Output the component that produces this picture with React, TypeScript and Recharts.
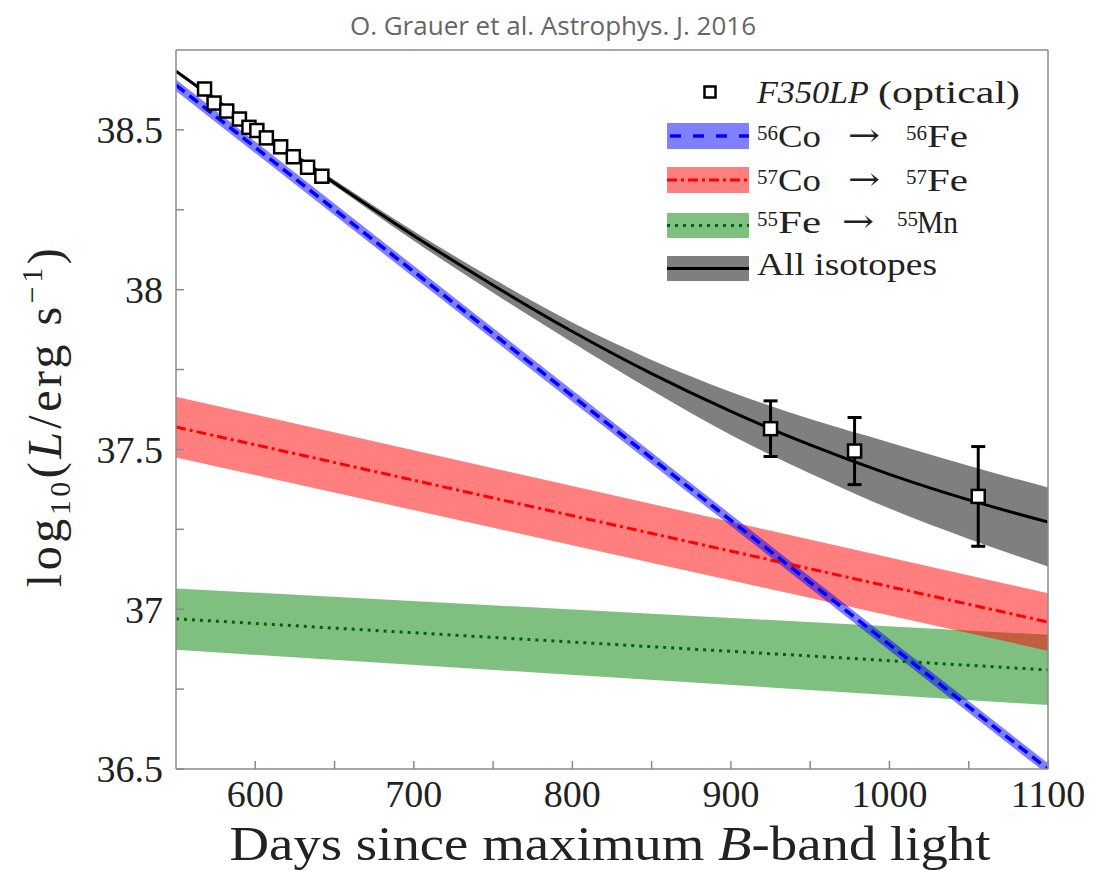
import React from 'react';
import { ComposedChart, Line, Area, Scatter, ErrorBar, XAxis, YAxis, Legend, Label } from 'recharts';

const SERIF = 'Liberation Serif';
const AXIS_GREY = '#8a8a8a';
const TEXT_DARK = '#222';

// radioactive-decay model, log10 luminosity vs days since B-band max
const modelDays = [550, 600, 650, 700, 750, 800, 850, 900, 950, 1000, 1050, 1100];
const totalLum = [38.684, 38.506, 38.334, 38.169, 38.014, 37.869, 37.737, 37.619, 37.514, 37.422, 37.342, 37.273];
const totalLow = [38.679, 38.499, 38.325, 38.153, 37.99, 37.835, 37.685, 37.545, 37.425, 37.315, 37.22, 37.134];
const totalHigh = [38.689, 38.513, 38.343, 38.183, 38.034, 37.897, 37.78, 37.68, 37.595, 37.522, 37.449, 37.381];

// single-isotope decay lines are straight in log space
const lineDays = [550, 1100];
const co56Lum = [38.64, 36.5];
const co56Low = [38.622, 36.482];
const co56High = [38.658, 36.518];
const co57Lum = [37.57, 36.96];
const co57Low = [37.475, 36.87];
const co57High = [37.665, 37.05];
const fe55Lum = [36.97, 36.81];
const fe55Low = [36.873, 36.7];
const fe55High = [37.065, 36.92];

// F350LP photometry
const photDays = [568, 574, 582, 590, 596, 601, 607, 616, 624, 633, 642, 925, 978, 1056];
const photLum = [38.628, 38.584, 38.559, 38.534, 38.508, 38.498, 38.475, 38.447, 38.416, 38.383, 38.355, 37.565, 37.495, 37.353];
const photErr = [0, 0, 0, 0, 0, 0, 0, 0, 0, 0, 0, 0.087, 0.105, 0.156];

const xTicks = [600, 650, 700, 750, 800, 850, 900, 950, 1000, 1050, 1100];
const yTicks = [36.5, 36.75, 37, 37.25, 37.5, 37.75, 38, 38.25, 38.5];

const totalRows = modelDays.map((day, i) => ({ day, lum: totalLum[i], band: [totalLow[i], totalHigh[i]] }));
const co56Rows = lineDays.map((day, i) => ({ day, lum: co56Lum[i], band: [co56Low[i], co56High[i]] }));
const co57Rows = lineDays.map((day, i) => ({ day, lum: co57Lum[i], band: [co57Low[i], co57High[i]] }));
const fe55Rows = lineDays.map((day, i) => ({ day, lum: fe55Lum[i], band: [fe55Low[i], fe55High[i]] }));
const photRows = photDays.map((day, i) => ({ day, lum: photLum[i], err: photErr[i] }));

const fmtX = (v: number) => (v % 100 === 0 ? String(v) : '');
const fmtY = (v: number) => (Math.abs(v * 2 - Math.round(v * 2)) < 1e-6 ? String(v) : '');

const XTick = ({ x, y, payload }: any) => (
  <text x={x} y={y} dy="0.71em" textAnchor="middle" fontFamily={SERIF} fontSize={38} fill={TEXT_DARK}>
    {fmtX(payload.value)}
  </text>
);

const YTick = ({ x, y, payload }: any) => (
  <text x={x} y={y} dy="0.355em" textAnchor="end" fontFamily={SERIF} fontSize={38} fill={TEXT_DARK}>
    {fmtY(payload.value)}
  </text>
);

const Square = (p: any) => (
  <rect x={p.cx - 6.5} y={p.cy - 6.5} width={13} height={13} fill="#fff" stroke="#000" strokeWidth={2.5} />
);

const XTitle = () => (
  <text x={610} y={860} textAnchor="middle" fontFamily={SERIF} fontSize={48} fill={TEXT_DARK}
    textLength={761} lengthAdjust="spacingAndGlyphs">
    Days since maximum <tspan fontStyle="italic">B</tspan>-band light
  </text>
);

const YTitle = () => (
  <text transform="rotate(-90)" x={-416} y={61} textAnchor="middle" fontFamily={SERIF} fontSize={48}
    fill={TEXT_DARK} letterSpacing={3.5}>
    log<tspan fontSize={30} dy={9}>10</tspan>
    <tspan dy={-9}>(</tspan>
    <tspan fontStyle="italic">L</tspan>/erg s<tspan fontSize={30} dy={-19}>−1</tspan>
    <tspan dy={19}>)</tspan>
  </text>
);

const Citation = () => (
  <text x={553} y={35} textAnchor="middle" fontFamily="Open Sans" fontSize={26} fill="#666">
    O. Grauer et al. Astrophys. J. 2016
  </text>
);

const Iso = ({ y, a, el, b, el2, arrowX, bX, el2X }: any) => (
  <text y={y} fontFamily={SERIF} fontSize={32} fill={TEXT_DARK}>
    <tspan x={107} fontSize={21} dy={-7}>{a}</tspan>
    <tspan x={128} dy={7} textLength={el.length * 21.5} lengthAdjust="spacingAndGlyphs">{el}</tspan>
    <tspan x={arrowX} fontFamily="DejaVu Serif" dy={-1} textLength={32} lengthAdjust="spacingAndGlyphs">→</tspan>
    <tspan x={bX} fontSize={21} dy={-6}>{b}</tspan>
    <tspan x={el2X} dy={7} textLength={el2.length * 20.5} lengthAdjust="spacingAndGlyphs">{el2}</tspan>
  </text>
);

const renderLegend = () => (
  <svg width={430} height={230} style={{ display: 'block' }}>
    <rect x={54.5} y={16.5} width={11} height={11} fill="#fff" stroke="#000" strokeWidth={2.5} />
    <text y={33} fontFamily={SERIF} fontSize={31} fill={TEXT_DARK}>
      <tspan x={107} fontStyle="italic" textLength={112} lengthAdjust="spacingAndGlyphs">F350LP</tspan>
      <tspan x={228} textLength={142} lengthAdjust="spacingAndGlyphs">(optical)</tspan>
    </text>

    <rect x={17} y={53} width={82} height={26} fill="#0000ff" fillOpacity={0.5} />
    <line x1={17} x2={99} y1={66} y2={66} stroke="#0000ff" strokeWidth={3.5} strokeDasharray="11 12" strokeDashoffset={-3} />
    <Iso y={77} a="56" el="Co" b="56" el2="Fe" arrowX={198} bX={256} el2X={277} />

    <rect x={17} y={97} width={82} height={26} fill="#ff0000" fillOpacity={0.5} />
    <line x1={17} x2={99} y1={110} y2={110} stroke="#ff0000" strokeWidth={3} strokeDasharray="10 4 3 4" />
    <Iso y={121} a="57" el="Co" b="57" el2="Fe" arrowX={198} bX={256} el2X={277} />

    <rect x={17} y={143} width={82} height={25} fill="#008000" fillOpacity={0.5} />
    <line x1={17} x2={99} y1={155.5} y2={155.5} stroke="#006400" strokeWidth={3} strokeDasharray="3 5" />
    <Iso y={163} a="55" el="Fe" b="55" el2="Mn" arrowX={192} bX={247} el2X={267} />

    <rect x={17} y={186} width={82} height={25} fill="#000" fillOpacity={0.5} />
    <line x1={17} x2={99} y1={198.5} y2={198.5} stroke="#000" strokeWidth={3} />
    <text x={107} y={205} fontFamily={SERIF} fontSize={31} fill={TEXT_DARK} textLength={180} lengthAdjust="spacingAndGlyphs">
      All isotopes
    </text>
  </svg>
);

export default function App() {
  return (
    <div style={{ position: 'absolute', left: 0, top: 0, width: 1094, height: 871, background: '#fff' }}>
      <ComposedChart width={1094} height={871} margin={{ top: 49, right: 45, bottom: 0, left: 0 }}>
        <XAxis xAxisId="b" type="number" dataKey="day" domain={[550, 1100]} ticks={xTicks}
          allowDataOverflow height={102} stroke={AXIS_GREY} strokeWidth={1.5} tickSize={-8} tickMargin={19}
          tick={<XTick />} interval={0}>
          <Label content={XTitle} />
        </XAxis>
        <XAxis xAxisId="t" orientation="top" type="number" dataKey="day" domain={[550, 1100]} ticks={xTicks}
          allowDataOverflow height={1} stroke={AXIS_GREY} strokeWidth={1.5} tickSize={-8} tick={false} interval={0}>
          <Label content={Citation} />
        </XAxis>
        <YAxis yAxisId="l" type="number" domain={[36.5, 38.75]} ticks={yTicks}
          allowDataOverflow width={176} stroke={AXIS_GREY} strokeWidth={1.5} tickSize={-8} tickMargin={21}
          tick={<YTick />} interval={0}>
          <Label content={YTitle} />
        </YAxis>
        <YAxis yAxisId="r" orientation="right" type="number" domain={[36.5, 38.75]} ticks={yTicks}
          allowDataOverflow width={1} stroke={AXIS_GREY} strokeWidth={1.5} tickSize={-8} tick={false} interval={0} />

        <Area xAxisId="b" yAxisId="l" data={fe55Rows} dataKey="band" type="linear" stroke="none"
          fill="#008000" fillOpacity={0.5} isAnimationActive={false} />
        <Area xAxisId="b" yAxisId="l" data={co57Rows} dataKey="band" type="linear" stroke="none"
          fill="#ff0000" fillOpacity={0.5} isAnimationActive={false} />
        <Area xAxisId="b" yAxisId="l" data={totalRows} dataKey="band" type="monotone" stroke="none"
          fill="#000" fillOpacity={0.5} isAnimationActive={false} />
        <Area xAxisId="b" yAxisId="l" data={co56Rows} dataKey="band" type="linear" stroke="none"
          fill="#0000ff" fillOpacity={0.5} isAnimationActive={false} />

        <Line xAxisId="b" yAxisId="l" data={fe55Rows} dataKey="lum" type="linear" stroke="#006400"
          strokeWidth={3} strokeDasharray="3 5" dot={false} isAnimationActive={false} />
        <Line xAxisId="b" yAxisId="l" data={co57Rows} dataKey="lum" type="linear" stroke="#ff0000"
          strokeWidth={3} strokeDasharray="10 4 3 4" dot={false} isAnimationActive={false} />
        <Line xAxisId="b" yAxisId="l" data={co56Rows} dataKey="lum" type="linear" stroke="#0000ff"
          strokeWidth={3.5} strokeDasharray="11 6" dot={false} isAnimationActive={false} />
        <Line xAxisId="b" yAxisId="l" data={totalRows} dataKey="lum" type="monotone" stroke="#000"
          strokeWidth={3} dot={false} isAnimationActive={false} />

        <Scatter xAxisId="b" yAxisId="l" data={photRows} dataKey="lum" shape={Square} isAnimationActive={false}>
          <ErrorBar dataKey="err" direction="y" width={7} stroke="#000" strokeWidth={3} />
        </Scatter>

        <Legend verticalAlign="middle" align="center" layout="horizontal" content={renderLegend}
          wrapperStyle={{ left: 650, top: 70, width: 430, height: 230 }} />
      </ComposedChart>
    </div>
  );
}
